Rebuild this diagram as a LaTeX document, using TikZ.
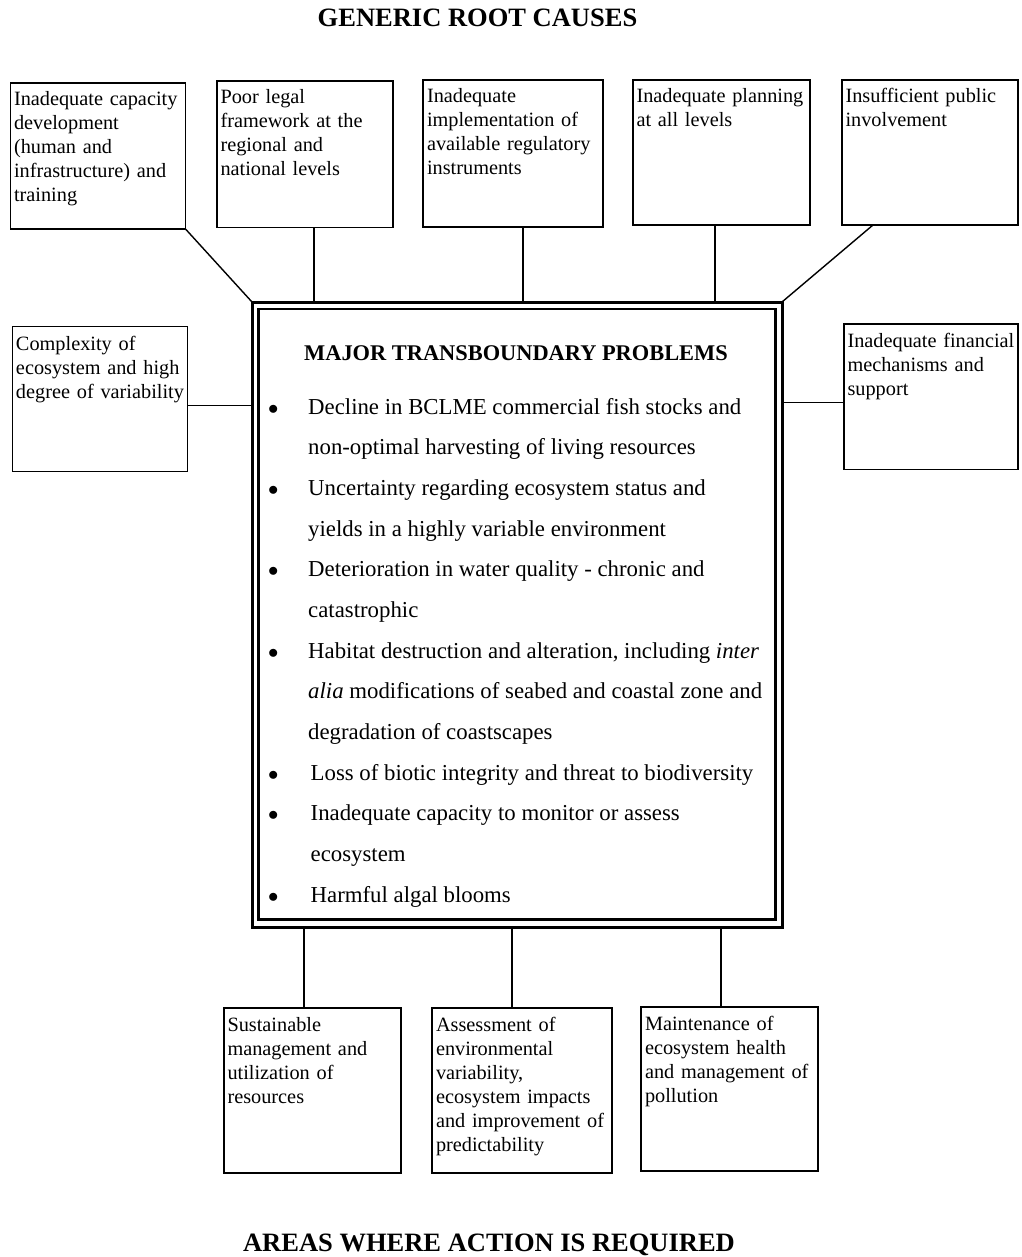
\documentclass[tikz,border=0pt]{standalone}
\usepackage{fontspec}
\setmainfont{Liberation Serif}
\usetikzlibrary{calc}
\tikzset{
  cause/.style={draw, line width=1.4pt, rectangle, outer sep=0pt, inner sep=0pt, anchor=north west},
  boxtext/.style={anchor=base west, inner sep=0pt, outer sep=0pt, align=left, text width=200pt, font=\fontsize{20.3}{24}\selectfont},
  link/.style={line width=1.4pt},
  heading/.style={anchor=base, inner sep=0pt, font=\fontsize{26.5}{30}\selectfont\bfseries},
  mainbox/.style={draw, line width=3pt, rectangle, outer sep=0pt, inner sep=0pt, anchor=north west},
}
\newcommand{\bul}{\makebox[39pt][l]{\hspace{-1pt}$\bullet$}}
\begin{document}
\begin{tikzpicture}[x=1pt,y=-1pt]
\useasboundingbox (0,0) rectangle (1021,1257);

% headings
\node[heading] (top) at (477.5,27) {GENERIC ROOT CAUSES};
\node[heading] (bottom) at (489,1251) {AREAS WHERE ACTION IS REQUIRED};

% cause boxes
\node[cause, minimum width=175pt, minimum height=146pt] (b1) at (10.5,83) {};
\node[cause, minimum width=176pt, minimum height=146.5pt] (b2) at (217,81) {};
\node[cause, minimum width=180pt, minimum height=147pt] (b3) at (423,80) {};
\node[cause, minimum width=177pt, minimum height=145pt] (b4) at (633,80) {};
\node[cause, minimum width=176pt, minimum height=145pt] (b5) at (842,80) {};
\node[cause, minimum width=175pt, minimum height=145pt] (b6) at (12.5,326.5) {};
\node[cause, minimum width=174pt, minimum height=145.5pt] (b7) at (844,324) {};

% action boxes
\node[cause, minimum width=177pt, minimum height=165pt] (a1) at (224,1008) {};
\node[cause, minimum width=180pt, minimum height=165pt] (a2) at (432,1008) {};
\node[cause, minimum width=177pt, minimum height=164pt] (a3) at (641,1007) {};

% box texts
\node[boxtext] (b1t) at ([shift={(3.5pt,-23pt)}]b1.north west) {Inadequate capacity\\development\\(human and\\infrastructure) and\\training};
\node[boxtext] (b2t) at ([shift={(3.5pt,-23pt)}]b2.north west) {Poor legal\\framework at the\\regional and\\national levels};
\node[boxtext] (b3t) at ([shift={(4pt,-23pt)}]b3.north west) {Inadequate\\implementation of\\available regulatory\\instruments};
\node[boxtext] (b4t) at ([shift={(3.5pt,-23pt)}]b4.north west) {Inadequate planning\\at all levels};
\node[boxtext] (b5t) at ([shift={(3.5pt,-23pt)}]b5.north west) {Insufficient public\\involvement};
\node[boxtext] (b6t) at ([shift={(3.5pt,-23.5pt)}]b6.north west) {Complexity of\\ecosystem and high\\degree of variability};
\node[boxtext] (b7t) at ([shift={(3.5pt,-23.5pt)}]b7.north west) {Inadequate financial\\mechanisms and\\support};
\node[boxtext] (a1t) at ([shift={(3.5pt,-23.5pt)}]a1.north west) {Sustainable\\management and\\utilization of\\resources};
\node[boxtext] (a2t) at ([shift={(4pt,-23.5pt)}]a2.north west) {Assessment of\\environmental\\variability,\\ecosystem impacts\\and improvement of\\predictability};
\node[boxtext] (a3t) at ([shift={(4pt,-23.5pt)}]a3.north west) {Maintenance of\\ecosystem health\\and management of\\pollution};

% main box
\node[mainbox, minimum width=530pt, minimum height=625pt] (main) at (252,302) {};
\draw[line width=2.5pt] ([shift={(6.5pt,-7pt)}]main.north west) rectangle ([shift={(-6.5pt,7.5pt)}]main.south east);

\node[anchor=base, inner sep=0pt, font=\fontsize{22.4}{26}\selectfont\bfseries] (mtitle) at (516,360) {MAJOR TRANSBOUNDARY PROBLEMS};
\node[anchor=base west, inner sep=0pt, font=\fontsize{22.8}{40.67}\selectfont] (list) at (269,414) {%
\begin{tabular}[t]{@{}l@{}l@{}}
\bul & Decline in BCLME commercial fish stocks and\\
 & non-optimal harvesting of living resources\\
\bul & Uncertainty regarding ecosystem status and\\
 & yields in a highly variable environment\\
\bul & Deterioration in water quality - chronic and\\
 & catastrophic\\
\bul & Habitat destruction and alteration, including \textit{inter}\\
 & \textit{alia} modifications of seabed and coastal zone and\\
 & degradation of coastscapes\\
\bul & \hspace{2.5pt}Loss of biotic integrity and threat to biodiversity\\
\bul & \hspace{2.5pt}Inadequate capacity to monitor or assess\\
 & \hspace{2.5pt}ecosystem\\
\bul & \hspace{2.5pt}Harmful algal blooms
\end{tabular}};

% connectors to causes
\draw[link] (b1.south east) -- (main.north west);
\draw[link] ([xshift=9pt]b2.south) -- ([xshift=9pt]b2.south |- main.north);
\draw[link] ([xshift=10pt]b3.south) -- ([xshift=10pt]b3.south |- main.north);
\draw[link] ([xshift=-6.5pt]b4.south) -- ([xshift=-6.5pt]b4.south |- main.north);
\draw[link] ([xshift=31pt]b5.south west) -- (main.north east);
\draw[link] ([yshift=-6.5pt]b6.east) -- ([yshift=-6.5pt]b6.east -| main.west);
\draw[link] ([yshift=-5.5pt]b7.west -| main.east) -- ([yshift=-5.5pt]b7.west);

% connectors to actions
\draw[link] ([xshift=-8.5pt]a1.north |- main.south) -- ([xshift=-8.5pt]a1.north);
\draw[link] ([xshift=-10pt]a2.north |- main.south) -- ([xshift=-10pt]a2.north);
\draw[link] ([xshift=-8.5pt]a3.north |- main.south) -- ([xshift=-8.5pt]a3.north);
\end{tikzpicture}
\end{document}
